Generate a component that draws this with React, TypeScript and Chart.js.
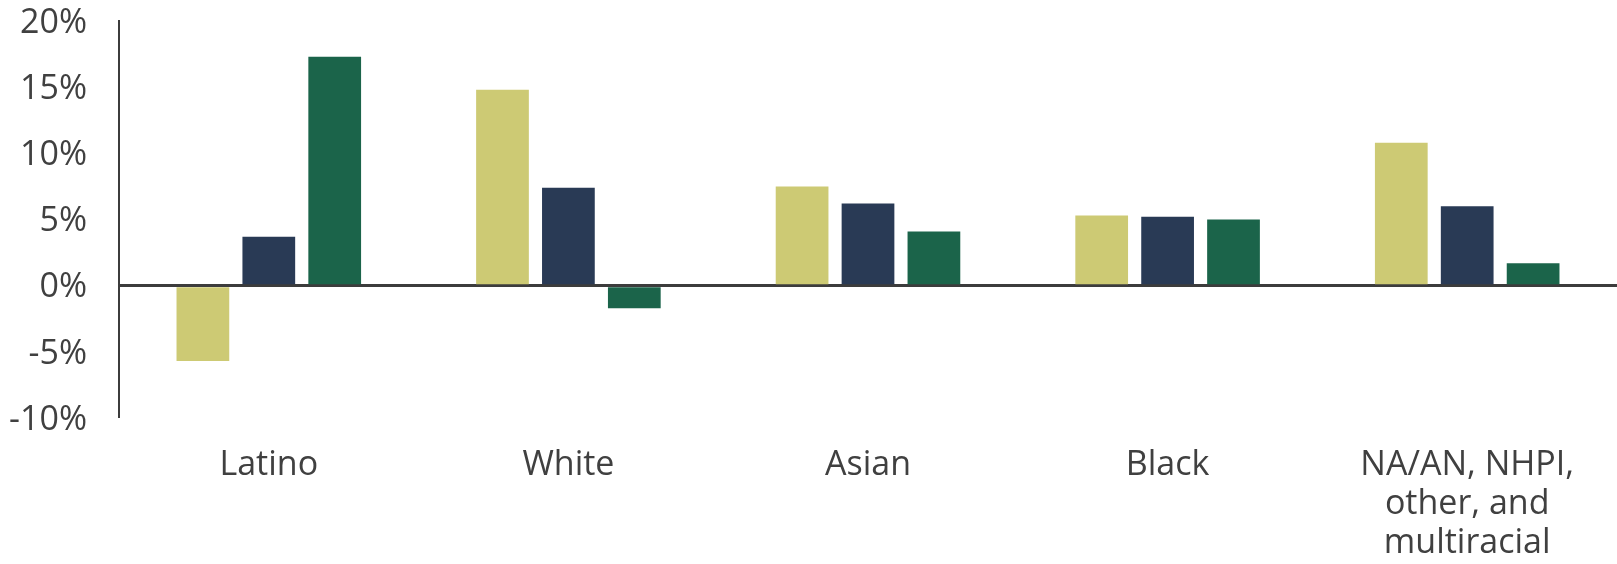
import React, { useEffect, useRef } from "react";
import { Chart, registerables } from "chart.js";

Chart.register(...registerables);

const categories: (string | string[])[] = [
  "Latino",
  "White",
  "Asian",
  "Black",
  ["NA/AN, NHPI,", "other, and", "multiracial"],
];
const seriesA = [-5.7, 14.8, 7.5, 5.3, 10.8];
const seriesB = [3.7, 7.4, 6.2, 5.2, 6.0];
const seriesC = [17.3, -1.7, 4.1, 5.0, 1.7];
const yTicks = [-10, -5, 0, 5, 10, 15, 20];

const COLORS = ["#CDCA74", "#293A55", "#1B644A"];
const TEXT = "#404040";
const FONT = "'Open Sans'";

export default function App() {
  const ref = useRef<HTMLCanvasElement>(null);
  useEffect(() => {
    document.body.style.margin = "0";
    const chart = new Chart(ref.current!, {
      type: "bar",
      data: {
        labels: categories,
        datasets: [
          { label: "A", data: seriesA, backgroundColor: COLORS[0] },
          { label: "B", data: seriesB, backgroundColor: COLORS[1] },
          { label: "C", data: seriesC, backgroundColor: COLORS[2] },
        ],
      },
      options: {
        responsive: false,
        animation: false,
        layout: { padding: { top: 0, right: 0, bottom: 0, left: 0 } },
        plugins: { legend: { display: false }, tooltip: { enabled: false } },
        datasets: {
          bar: { categoryPercentage: 0.66, barPercentage: 0.8 },
        },
        scales: {
          x: {
            grid: { display: false, drawTicks: false },
            border: { display: false },
            ticks: {
              color: TEXT,
              font: { family: FONT, size: 34, lineHeight: 1.15 },
              padding: 28,
              maxRotation: 0,
              autoSkip: false,
            },
            afterFit: (s: any) => {
              s.height = 146;
              s.paddingLeft = 0;
              s.paddingRight = 0;
            },
          },
          y: {
            min: -10,
            max: 20,
            z: 1,
            afterBuildTicks: (s: any) => {
              s.ticks = yTicks.map((v) => ({ value: v }));
            },
            grid: {
              drawTicks: false,
              color: (c: any) => (c.tick && c.tick.value === 0 ? "#3C3C3C" : "rgba(0,0,0,0)"),
              lineWidth: (c: any) => (c.tick && c.tick.value === 0 ? 3 : 0),
            },
            border: { display: true, color: "#3C3C3C", width: 2 },
            ticks: {
              color: TEXT,
              font: { family: FONT, size: 34 },
              padding: 32,
              labelOffset: 2,
              callback: (v: any) => `${v}%`,
            },
            afterFit: (s: any) => {
              s.width = 119;
              s.paddingTop = 21;
              s.paddingBottom = 0;
            },
          },
        },
      },
    });
    return () => chart.destroy();
  }, []);
  return (
    <div style={{ position: "absolute", left: 0, top: 0, width: 1617, height: 564, background: "#fff" }}>
      <canvas ref={ref} width={1617} height={564} />
    </div>
  );
}
